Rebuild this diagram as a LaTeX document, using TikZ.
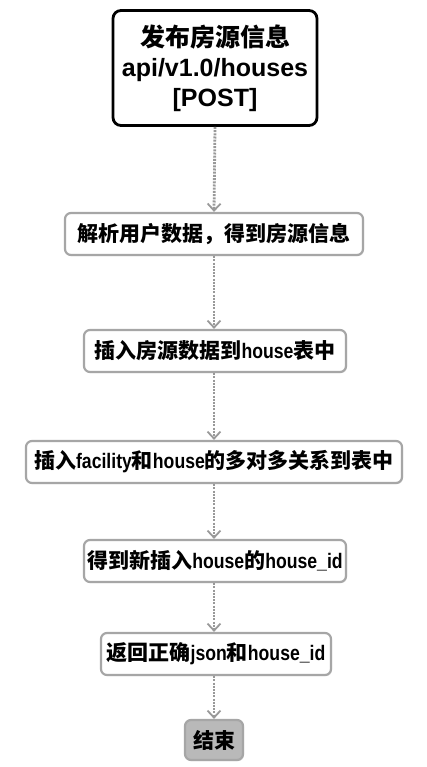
\documentclass[tikz,border=0pt]{standalone}
\usepackage{fontspec}
\setmainfont{Liberation Sans}[FakeStretch=0.84]
\newfontfamily\wide{Liberation Sans}
\newfontfamily\cjk{Noto Sans CJK SC}
\usepackage{tikz}
\usetikzlibrary{positioning,arrows.meta,shadows}
\newcommand{\zh}[1]{{\cjk #1}}

\tikzset{
    stepbox/.style={draw=gray!70, line width=2.2pt, rounded corners=6pt, fill=white,
        drop shadow={shadow xshift=1pt, shadow yshift=-1.2pt, fill=gray!40},
        font=\fontsize{21}{25}\selectfont\bfseries, inner sep=0pt, minimum height=42pt},
    startbox/.style={draw=black, line width=2.8pt, rounded corners=8pt, fill=white,
        font=\wide\fontsize{25}{30}\selectfont\bfseries, align=center,
        minimum width=204pt, minimum height=115pt, inner sep=0pt},
    endbox/.style={draw=gray!70, line width=2.2pt, rounded corners=6pt, fill=gray!55,
        drop shadow={shadow xshift=1pt, shadow yshift=-1.2pt, fill=gray!40},
        font=\fontsize{21}{25}\selectfont\bfseries, minimum width=58pt, minimum height=40pt, inner sep=0pt},
    flow/.style={gray!80, line width=2.8pt, dash pattern=on 2pt off 1.2pt,
        -{Straight Barb[length=7pt,width=13pt,line width=1.8pt]}}
}

\begin{document}
\begin{tikzpicture}[x=1pt,y=-1pt]
    \useasboundingbox (0,0) rectangle (427,767);

    % Start
    \node [startbox] (publish) at (215,68) {\zh{发布房源信息}\\api/v1.0/houses\\{[}POST{]}};

    % Steps
    \node [stepbox, minimum width=298pt] (parse) at (214,234) {\zh{解析用户数据，得到房源信息}};
    \node [stepbox, minimum width=262pt] (inshouse) at (215,351) {\zh{插入房源数据到}house\zh{表中}};
    \node [stepbox, minimum width=376pt] (insfac) at (214,462) {\zh{插入}facility\zh{和}house\zh{的多对多关系到表中}};
    \node [stepbox, minimum width=262pt] (getid) at (215,561) {\zh{得到新插入}house\zh{的}house\_id};
    \node [stepbox, minimum width=230pt] (reply) at (216,654) {\zh{返回正确}json\zh{和}house\_id};

    % End
    \node [endbox] (finish) at (214,740) {\zh{结束}};

    % Flow
    \draw [flow] (publish.south) -- (parse.north);
    \draw [flow] (parse.south) -- (parse.south |- inshouse.north);
    \draw [flow] (parse.south |- inshouse.south) -- (parse.south |- insfac.north);
    \draw [flow] (insfac.south) -- (insfac.south |- getid.north);
    \draw [flow] (insfac.south |- getid.south) -- (insfac.south |- reply.north);
    \draw [flow] (insfac.south |- reply.south) -- (finish.north);
\end{tikzpicture}
\end{document}
